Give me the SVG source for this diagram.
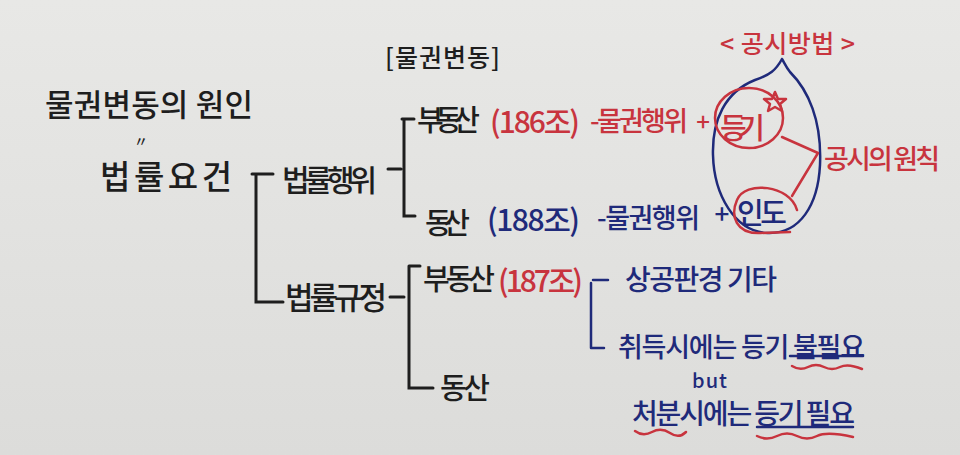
<svg xmlns="http://www.w3.org/2000/svg" width="960" height="455" viewBox="0 0 960 455">
<defs>
<style>
text{font-family:"Noto Sans CJK KR","Noto Sans",sans-serif;dominant-baseline:central;font-weight:500;}
.k{fill:#1e1e1e;}
.r{fill:#c8343e;}
.b{fill:#1f2a7a;}
.lk{stroke:#1e1e1e;stroke-width:3;fill:none;stroke-linecap:round;}
.lb{stroke:#1f2a7a;stroke-width:2.5;fill:none;stroke-linecap:round;stroke-linejoin:round;}
.lr{stroke:#c8343e;stroke-width:2.5;fill:none;stroke-linecap:round;stroke-linejoin:round;}
</style>
<linearGradient id="paper" x1="0" y1="0" x2="0" y2="1">
<stop offset="0" stop-color="#e8e8e6"/>
<stop offset="1" stop-color="#dcdcda"/>
</linearGradient>
</defs>
<rect width="960" height="455" fill="url(#paper)"/>

<g id="connectors">
<path class="lk" d="M252 174 H273 M256 174 V302 H283"/>
<path class="lk" d="M388 169 H401 M402 119 H414 M404 119 V216 H415"/>
<path class="lk" d="M390 297 H404 M409 266 H420 M409 266 V388 H433"/>
<path class="lb" d="M593 280 H608 M591 283 V348 H604"/>
<path class="lb" d="M782 59 C776 70 770 75 755 80 C725 92 712 120 713 155 C714 195 735 232 768 233 C800 234 818 205 820 165 C822 120 808 90 790 72 C786 67 784 62 782 59"/>
<ellipse class="lr" cx="749" cy="118" rx="34" ry="30"/>
<polygon class="lr" stroke-width="2" points="775,92 778,99 786,99 780,104 782,111 775,107 768,111 770,104 764,99 772,99"/>
<polyline class="lr" points="782,137 818,153 792,196"/>
<path class="lr" d="M797 210 C790 185 745 180 737 200 C730 216 736 234 760 233 L790 232"/>
<line class="lb" x1="790" y1="356" x2="863" y2="356"/>
<path class="lr" d="M792 366 Q800 371 808 367 T824 367 T840 367 T862 369"/>
<path class="lr" d="M635 431 Q643 437 652 432 T670 433 T686 432"/>
<line class="lb" x1="757" y1="427" x2="853" y2="427"/>
<path class="lr" d="M757 436 Q767 441 777 436 T797 436 T817 436 T853 437"/>
</g>

<g id="title"><text class="k" x="45" y="102" font-size="31" textLength="208" lengthAdjust="spacing">물권변동의 원인</text></g>
<g id="equals"><text class="k" x="141" y="140" font-size="14" font-weight="400" text-anchor="middle">〃</text></g>
<g id="yogeon"><text class="k" x="100" y="175" font-size="33" textLength="132" lengthAdjust="spacing">법률요건</text></g>
<g id="heading"><text class="k" x="385" y="56" font-size="25" textLength="115" lengthAdjust="spacing">[물권변동]</text></g>
<g id="gongsi-method"><text class="r" x="720" y="42" font-size="25" textLength="135" lengthAdjust="spacing">&lt; 공시방법 &gt;</text></g>
<g id="act"><text class="k" x="282" y="178" font-size="30" textLength="95" lengthAdjust="spacing">법률행위</text></g>
<g id="law"><text class="k" x="285" y="295" font-size="31" textLength="102" lengthAdjust="spacing">법률규정</text></g>

<g id="act-realty">
<text class="k" x="417" y="118" font-size="29" textLength="63" lengthAdjust="spacing">부동산</text>
<text class="r" x="490" y="120" font-size="30" textLength="90" lengthAdjust="spacing">(186조)</text>
<text class="r" x="590" y="119" font-size="27" textLength="98" lengthAdjust="spacing">-물권행위</text>
<text class="r" x="703" y="120" font-size="24" text-anchor="middle">+</text>
</g>
<g id="registration"><text class="r" x="720" y="126" font-size="29" textLength="45" lengthAdjust="spacing">등기</text></g>
<g id="principle"><text class="r" x="824" y="157" font-size="27" textLength="116" lengthAdjust="spacing">공시의 원칙</text></g>

<g id="act-movable">
<text class="k" x="425" y="221" font-size="29" textLength="45" lengthAdjust="spacing">동산</text>
<text class="b" x="487" y="218" font-size="30" textLength="93" lengthAdjust="spacing">(188조)</text>
<text class="b" x="597" y="216" font-size="27" textLength="103" lengthAdjust="spacing">-물권행위</text>
<text class="b" x="722" y="212" font-size="26" text-anchor="middle">+</text>
</g>
<g id="delivery"><text class="b" x="737" y="211" font-size="29" textLength="50" lengthAdjust="spacing">인도</text></g>

<g id="law-realty">
<text class="k" x="423" y="277" font-size="29" textLength="72" lengthAdjust="spacing">부동산</text>
<text class="r" x="498" y="279" font-size="30" textLength="85" lengthAdjust="spacing">(187조)</text>
</g>
<g id="causes"><text class="b" x="625" y="278" font-size="28" textLength="152" lengthAdjust="spacing">상공판경 기타</text></g>
<g id="acquire"><text class="b" x="618" y="345" font-size="27" textLength="247" lengthAdjust="spacing">취득시에는 등기 불필요</text></g>
<g id="but"><text class="b" x="692" y="379" font-size="20" textLength="35" lengthAdjust="spacing">but</text></g>
<g id="dispose"><text class="b" x="632" y="412" font-size="28" textLength="223" lengthAdjust="spacing">처분시에는 등기 필요</text></g>
<g id="law-movable"><text class="k" x="440" y="386" font-size="29" textLength="50" lengthAdjust="spacing">동산</text></g>
</svg>
